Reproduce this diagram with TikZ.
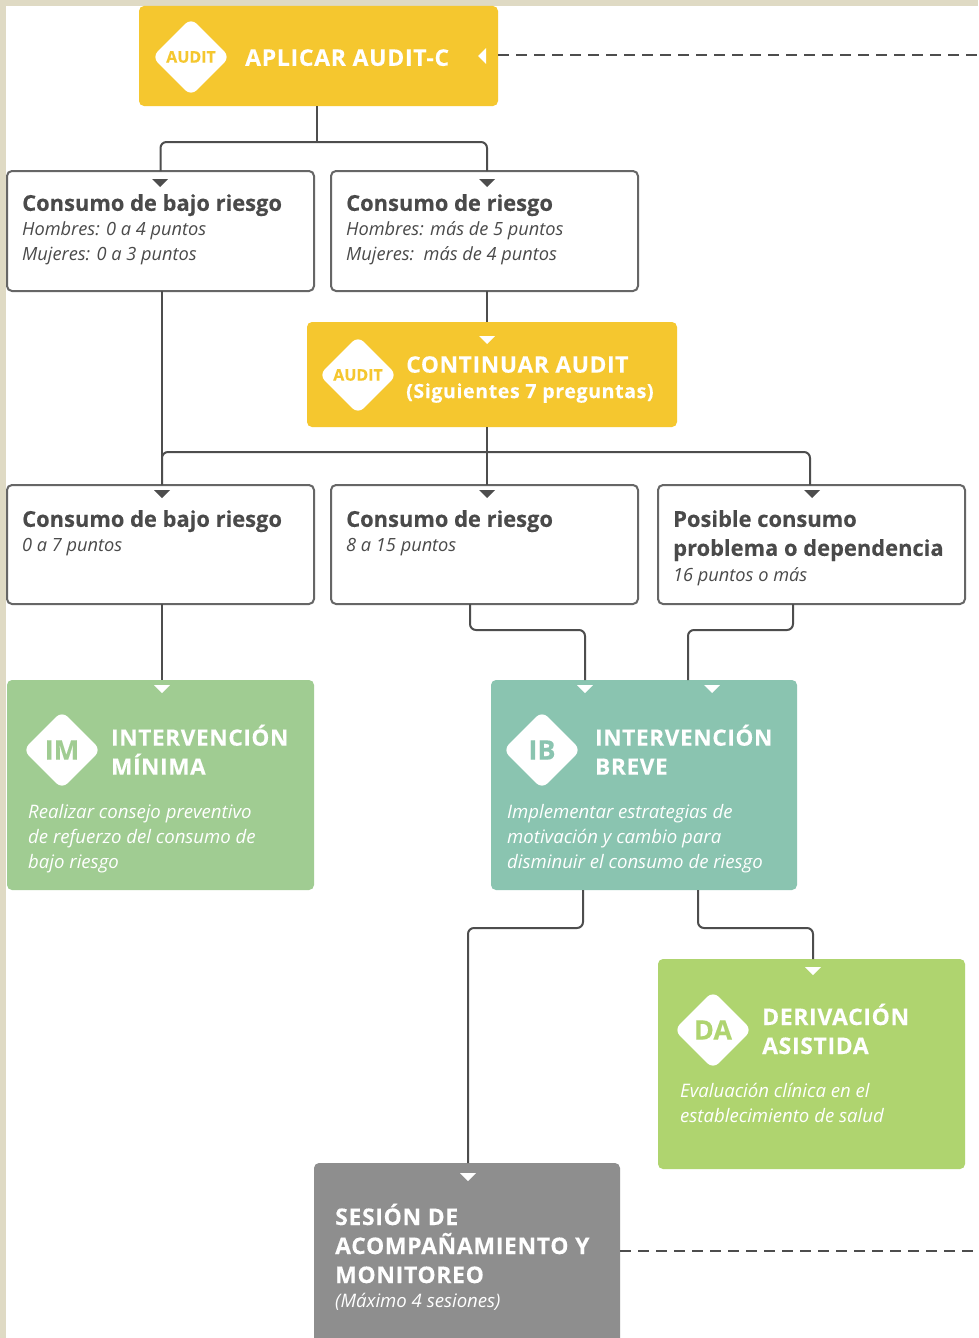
\documentclass[tikz,border=0pt]{standalone}
\usepackage{fontspec}
\setmainfont{Open Sans}
\newfontfamily\capsfont[LetterSpace=3,FakeBold=0.25]{Open Sans}
\newfontfamily\headfont[FakeBold=0.2]{Open Sans}
\usetikzlibrary{shapes.geometric}
\definecolor{linegray}{HTML}{4D4D4D}
\definecolor{framegray}{HTML}{666666}
\definecolor{textgray}{HTML}{4A4A4A}
\definecolor{auditcolor}{HTML}{F5C72F}
\definecolor{imcolor}{HTML}{A0CC92}
\definecolor{ibcolor}{HTML}{8AC4B0}
\definecolor{dacolor}{HTML}{AFD46F}
\definecolor{sesioncolor}{HTML}{8E8E8E}
\definecolor{pagecolor}{HTML}{DFDAC4}
\tikzset{
    box/.style={anchor=north west,inner sep=0pt,outer sep=0pt,rounded corners=5pt,minimum width=307pt},
    result/.style={box,draw=framegray,line width=2pt,fill=white,minimum height=120pt},
    action/.style={box,minimum height=210pt},
    badge/.style={diamond,fill=white,rounded corners=8pt,inner sep=0pt,minimum width=78pt,minimum height=78pt},
    link/.style={draw=linegray,line width=2pt,rounded corners=6pt},
    dashlink/.style={draw=linegray,line width=2pt,dash pattern=on 11pt off 7pt},
    head/.style={anchor=north west,inner sep=0pt,align=left,text=textgray,font=\headfont\bfseries\fontsize{21.9}{29}\selectfont},
    sub/.style={anchor=north west,inner sep=0pt,align=left,text=textgray,font=\itshape\fontsize{18.2}{25}\selectfont},
    caps/.style={anchor=north west,inner sep=0pt,align=left,text=white,font=\capsfont\bfseries\fontsize{22.5}{29}\selectfont},
    note/.style={anchor=north west,inner sep=0pt,align=left,text=white,font=\itshape\fontsize{18.6}{25}\selectfont}
}
\begin{document}
\begin{tikzpicture}[x=1pt,y=-1pt]
    \useasboundingbox (0,0) rectangle (978,1338);
    \fill[pagecolor] (0,0) rectangle (978,1338);
    \fill[white] (6,6) rectangle (978,1338);

    % boxes
    \node[box,fill=auditcolor,minimum width=359pt,minimum height=100pt] (aplicar) at (139,6) {};
    \node[result] (bajoA) at (7,171) {};
    \node[result] (riesgoA) at (331,171) {};
    \node[box,fill=auditcolor,minimum width=370pt,minimum height=105pt] (continuar) at (307,322) {};
    \node[result,minimum height=119pt] (bajoB) at (7,485) {};
    \node[result,minimum height=119pt] (riesgoB) at (331,485) {};
    \node[result,minimum height=119pt] (posible) at (658,485) {};
    \node[action,fill=imcolor] (minima) at (7,680) {};
    \node[action,fill=ibcolor,minimum width=306pt] (breve) at (491,680) {};
    \node[action,fill=dacolor] (derivacion) at (658,959) {};
    \node[box,fill=sesioncolor,minimum width=306pt,minimum height=190pt] (sesion) at (314,1163) {};

    % connectors
    \coordinate (busA) at (317,142);
    \coordinate (busB) at (487,452);
    \coordinate (busC) at (470,630);
    \coordinate (busD) at (793,630);
    \coordinate (busE) at (583,928);
    \coordinate (busF) at (698,928);
    \coordinate (salidaA) at (978,55);
    \coordinate (salidaB) at (978,1251);
    \draw[link] ([xshift=-1.5pt]aplicar.south) -- (busA);
    \draw[link] (bajoA.north) |- (busA) -| ([xshift=2.5pt]riesgoA.north);
    \draw[link] ([xshift=1.5pt]bajoA.south) -- ([xshift=1.5pt]bajoB.north);
    \draw[link] ([xshift=2.5pt]riesgoA.south) -- ([xshift=-5pt]continuar.north);
    \draw[link] ([xshift=-5pt]continuar.south) -- ([xshift=2.5pt]riesgoB.north);
    \draw[link] ([xshift=1.5pt]bajoB.north) |- (busB) -| ([xshift=-1.5pt]posible.north);
    \draw[link] ([xshift=1.5pt]bajoB.south) -- ([xshift=1.5pt]minima.north);
    \draw[link] ([xshift=-14.5pt]riesgoB.south) -- (busC) -| ([xshift=-59pt]breve.north);
    \draw[link] ([xshift=-18.5pt]posible.south) -- (busD) -| ([xshift=44pt]breve.north);
    \draw[link] ([xshift=-61pt]breve.south) -- (busE) -| ([xshift=1pt]sesion.north);
    \draw[link] ([xshift=54pt]breve.south) -- (busF) -| ([xshift=1.5pt]derivacion.north);
    \draw[dashlink] (aplicar.east |- salidaA) -- (salidaA);
    \draw[dashlink] (sesion.east |- salidaB) -- (salidaB);

    % small triangles
    \foreach \x/\y in {160/179,487/179,162/490,487/490,812/490}{
        \fill[linegray] (\x-8,\y) -- (\x+8,\y) -- (\x,\y+8) -- cycle;
    }
    \foreach \x/\y in {487/336,162/685,585/685,712/685,813/967,468/1173}{
        \fill[white] (\x-8,\y) -- (\x+8,\y) -- (\x,\y+8) -- cycle;
    }
    \fill[white] (478,56) -- (486,48) -- (486,64) -- cycle;

    % badges
    \node[badge,text=auditcolor,font=\headfont\bfseries\fontsize{16}{16}\selectfont] (badgeA) at (191,57) {AUDIT};
    \node[badge,text=auditcolor,font=\headfont\bfseries\fontsize{16}{16}\selectfont] (badgeB) at (358,375) {AUDIT};
    \node[badge,text=imcolor,font=\headfont\bfseries\fontsize{27}{27}\selectfont] (badgeIM) at (62,750) {IM};
    \node[badge,text=ibcolor,font=\headfont\bfseries\fontsize{27}{27}\selectfont] (badgeIB) at (542,750) {IB};
    \node[badge,text=dacolor,font=\headfont\bfseries\fontsize{27}{27}\selectfont] (badgeDA) at (713,1030) {DA};

    % texts
    \node[caps,font=\capsfont\bfseries\fontsize{23}{29}\selectfont] (tAplicar) at (245,49) {APLICAR AUDIT-C};
    \node[head] (tBajoA) at (22,194) {Consumo de bajo riesgo};
    \node[sub] (sBajoA) at (22,221) {Hombres: 0 a 4 puntos\\Mujeres: 0 a 3 puntos};
    \node[head] (tRiesgoA) at (346,194) {Consumo de riesgo};
    \node[sub] (sRiesgoA) at (346,221) {Hombres: más de 5 puntos\\Mujeres:\ \ más de 4 puntos};
    \node[caps,font=\capsfont\bfseries\fontsize{22.7}{26}\selectfont] (tContinuar) at (406,356) {CONTINUAR AUDIT};
    \node[caps,font=\capsfont\bfseries\fontsize{19.6}{26}\selectfont] (sContinuar) at (406,383) {(Siguientes 7 preguntas)};
    \node[head] (tBajoB) at (22,510) {Consumo de bajo riesgo};
    \node[sub] (sBajoB) at (22,538) {0 a 7 puntos};
    \node[head] (tRiesgoB) at (346,510) {Consumo de riesgo};
    \node[sub] (sRiesgoB) at (346,538) {8 a 15 puntos};
    \node[head] (tPosible) at (673,510) {Posible consumo\\problema o dependencia};
    \node[sub] (sPosible) at (673,567) {16 puntos o más};
    \node[caps] (tMinima) at (111,724.5) {INTERVENCIÓN\\MÍNIMA};
    \node[note] (nMinima) at (28,804) {Realizar consejo preventivo\\de refuerzo del consumo de\\bajo riesgo};
    \node[caps] (tBreve) at (595,724.5) {INTERVENCIÓN\\BREVE};
    \node[note] (nBreve) at (507,804) {Implementar estrategias de\\motivación y cambio para\\disminuir el consumo de riesgo};
    \node[caps,font=\capsfont\bfseries\fontsize{22.9}{29}\selectfont] (tDerivacion) at (762,1003.5) {DERIVACIÓN\\ASISTIDA};
    \node[note] (nDerivacion) at (680,1083) {Evaluación clínica en el\\establecimiento de salud};
    \node[caps,font=\capsfont\bfseries\fontsize{22.9}{29}\selectfont] (tSesion) at (335,1203.5) {SESIÓN DE\\ACOMPAÑAMIENTO Y\\MONITOREO};
    \node[note] (nSesion) at (335,1293) {(Máximo 4 sesiones)};
\end{tikzpicture}
\end{document}
